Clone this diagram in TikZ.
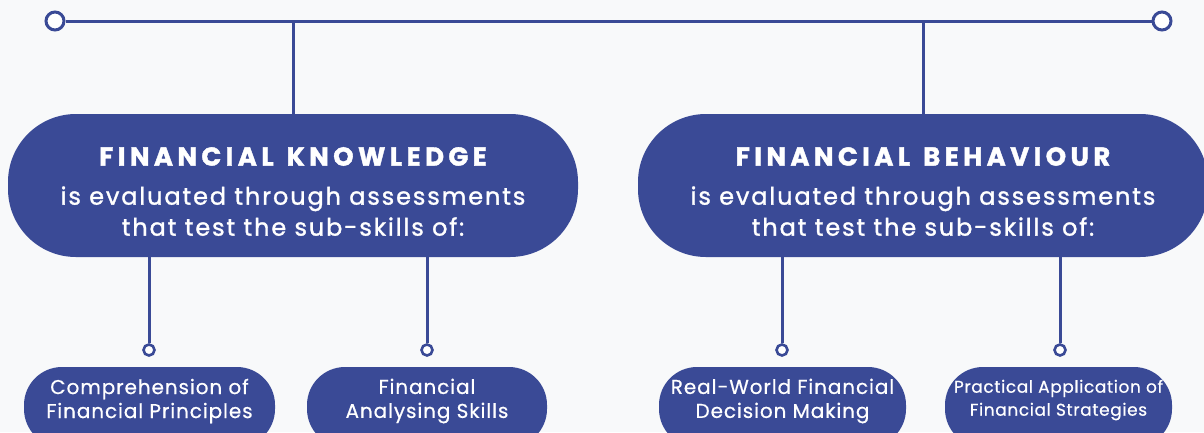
\documentclass[tikz,border=0pt]{standalone}
\usepackage{fontspec}
\setmainfont{Poppins}
\newfontfamily\headfont{Poppins}[LetterSpace=17, FakeBold=1.5]
\newfontfamily\bodyfont{Poppins}[LetterSpace=7.8, FakeBold=1.3]
\newfontfamily\subfont{Poppins}[LetterSpace=4.5, FakeBold=0.6]
\newfontfamily\subfontb{Poppins}[LetterSpace=3.5, FakeBold=0.6]
\newcommand\headstyle{\headfont\bfseries\fontsize{26}{31}\selectfont}
\definecolor{navy}{HTML}{3A4A96}
\definecolor{bg}{HTML}{F8F9FA}
\tikzset{
  wire/.style={draw=navy, line width=3pt},
  bigdot/.style={circle, draw=navy, line width=3pt, fill=white, minimum size=18pt, inner sep=0pt},
  smalldot/.style={circle, draw=navy, line width=2.6pt, fill=white, minimum size=11pt, inner sep=0pt},
  bigpill/.style={fill=navy, inner sep=0pt, minimum width=570pt, minimum height=143pt, rounded corners=68pt},
  bigtext/.style={text=white, align=center, inner sep=0pt, font=\bodyfont\fontsize{24}{31}\selectfont},
  smallpill/.style={fill=navy, inner sep=0pt, minimum height=80pt, rounded corners=38pt},
  smalltext/.style={text=white, align=center, inner sep=0pt, font=\subfont\fontsize{20}{24}\selectfont},
}
\begin{document}
\begin{tikzpicture}[x=1pt,y=-1pt]
\fill[bg] (0,0) rectangle (1204,432);
\useasboundingbox (0,0) rectangle (1204,432);

% top rail
\node[bigdot] (c1) at (55,21) {};
\node[bigdot] (c2) at (1162,21) {};
\draw[wire] (c1) -- (c2);

% main pills
\node[bigpill] (k) at (293,185.5) {};
\node[bigpill] (b) at (923,185.5) {};
\node[bigtext, yshift=-6pt] (kt) at (k) {{\headstyle FINANCIAL\hspace{3pt} KNOWLEDGE}\\[8pt]is evaluated through assessments\\that test the sub-skills of:};
\node[bigtext, yshift=-6pt] (bt) at (b) {{\headstyle FINANCIAL\hspace{3pt} BEHAVIOUR}\\[8pt]is evaluated through assessments\\that test the sub-skills of:};

\coordinate (jk) at (293,21);
\coordinate (jb) at (923,21);
\draw[wire] (jk) -- (k.north);
\draw[wire] (jb) -- (b.north);

% sub dots
\node[smalldot] (d1) at (149,350) {};
\node[smalldot] (d2) at (427,350) {};
\node[smalldot] (d3) at (782,350) {};
\node[smalldot] (d4) at (1060,350) {};
\draw[wire] (k.south -| d1) -- (d1);
\draw[wire] (k.south -| d2) -- (d2);
\draw[wire] (b.south -| d3) -- (d3);
\draw[wire] (b.south -| d4) -- (d4);

% sub pills
\node[smallpill, minimum width=251pt] (s1) at (149.5,407) {};
\node[smallpill, minimum width=240pt] (s2) at (427,407) {};
\node[smallpill, minimum width=247pt] (s3) at (782.5,407) {};
\node[smallpill, minimum width=227pt] (s4) at (1058.5,407) {};
\node[smalltext] (t1) at (149.5,401) {Comprehension of\\Financial Principles};
\node[smalltext] (t2) at (427,401) {Financial\\Analysing Skills};
\node[smalltext] (t3) at (782.5,401) {Real-World Financial\\Decision Making};
\node[smalltext, font=\subfontb\fontsize{17}{23}\selectfont] (t4) at (1058.5,400) {Practical Application of\\Financial Strategies};
\end{tikzpicture}
\end{document}
